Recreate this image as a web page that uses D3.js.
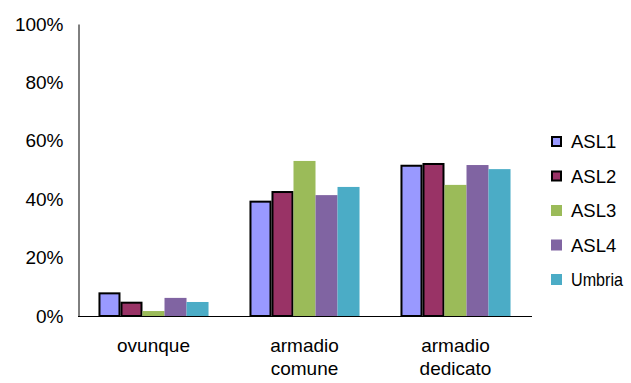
<!DOCTYPE html>
<html><head><meta charset="utf-8">
<script src="https://cdn.jsdelivr.net/npm/d3@7/dist/d3.min.js"></script>
<style>body{margin:0;background:#fff}svg{display:block;font-family:"Liberation Sans",Arial,sans-serif}</style>
</head><body><svg id="c" width="631" height="383"></svg>
<script>
const categories = [["ovunque"], ["armadio", "comune"], ["armadio", "dedicato"]];
const series = ["ASL1", "ASL2", "ASL3", "ASL4", "Umbria"];
const colors = ["#9999FF", "#993366", "#9BBB59", "#8064A2", "#4BACC6"];
const outlined = [true, true, false, false, false];
const values = [
  [8.1, 39.5, 51.8],
  [4.9, 42.8, 52.4],
  [1.7, 53.1, 44.9],
  [6.2, 41.4, 51.7],
  [4.8, 44.2, 50.3]
];
const yTicks = [0, 20, 40, 60, 80, 100];
const FS = 19;

const svg = d3.select("#c");
const x0 = d3.scaleBand().domain(d3.range(categories.length)).range([78, 531]).paddingInner(0).paddingOuter(0);
const x1 = d3.scaleBand().domain(series).range([0, x0.bandwidth()]).paddingInner(0).paddingOuter(0.93);
const y = d3.scaleLinear().domain([0, 100]).range([316, 24]);

// bars
series.forEach((s, si) => {
  svg.append("g").selectAll("rect").data(values[si]).join("rect")
    .attr("x", (d, i) => x0(i) + x1(s) + (outlined[si] ? 1 : 0))
    .attr("y", d => y(d) + (outlined[si] ? 1 : 0))
    .attr("width", x1.bandwidth() - (outlined[si] ? 2 : 0))
    .attr("height", d => y(0) - y(d) - (outlined[si] ? 1 : 0))
    .attr("fill", colors[si])
    .attr("stroke", outlined[si] ? "#000" : "none")
    .attr("stroke-width", 2);
});

// y axis
const yAxis = d3.axisLeft(y).tickValues(yTicks).tickSize(0).tickPadding(15).tickFormat(d => d + "%");
const gy = svg.append("g").attr("transform", "translate(78.5,0)").call(yAxis);
gy.attr("font-size", FS).attr("font-family", "'Liberation Sans', Arial, sans-serif");
gy.select(".domain").attr("stroke", "#000").attr("stroke-width", 1);
gy.selectAll("text").attr("fill", "#000");

// x baseline
svg.append("line").attr("x1", 78).attr("x2", 532).attr("y1", 316.5).attr("y2", 316.5).attr("stroke", "#000");

// x labels
categories.forEach((lines, i) => {
  const cx = x0(i) + x0.bandwidth() / 2;
  const t = svg.append("text").attr("text-anchor", "middle").attr("font-size", FS).attr("fill", "#000")
    .attr("x", cx).attr("y", 352);
  lines.forEach((l, j) => t.append("tspan").attr("x", cx).attr("dy", j === 0 ? 0 : 23).text(l));
});

// legend
const lg = svg.append("g").attr("transform", "translate(551,141)");
series.forEach((s, i) => {
  const g = lg.append("g").attr("transform", `translate(0,${i * 34.5})`);
  g.append("rect").attr("x", outlined[i] ? 1 : 0).attr("y", outlined[i] ? -4 : -5)
    .attr("width", outlined[i] ? 9 : 11).attr("height", outlined[i] ? 9 : 11)
    .attr("fill", colors[i]).attr("stroke", outlined[i] ? "#000" : "none").attr("stroke-width", 2);
  const t = g.append("text").attr("x", 20).attr("y", 7).attr("font-size", 18.5).attr("fill", "#000").text(s);
  const w = t.node().getComputedTextLength();
  if (w > 52) t.attr("textLength", 52).attr("lengthAdjust", "spacingAndGlyphs");
});
</script></body></html>
